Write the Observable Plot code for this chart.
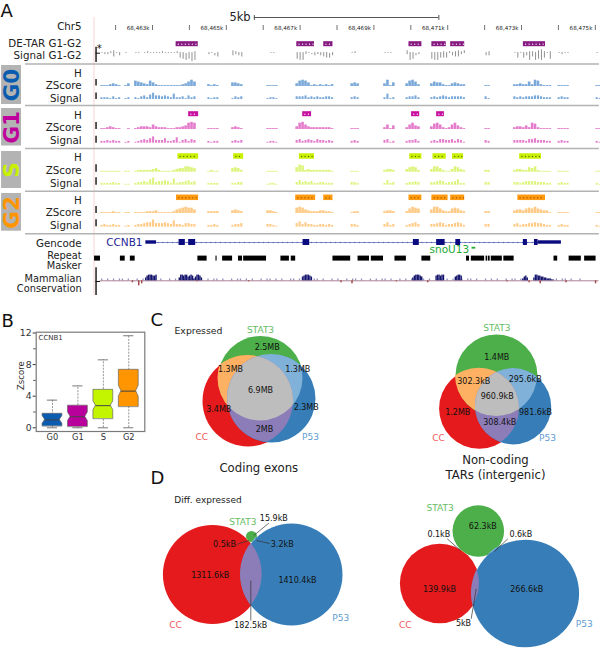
<!DOCTYPE html>
<html><head><meta charset="utf-8">
<script src="https://cdn.jsdelivr.net/npm/d3@7"></script>
<script src="https://cdn.jsdelivr.net/npm/@observablehq/plot@0.6"></script>
<style>
html,body{margin:0;padding:0;background:#fff}
#page{position:relative;width:600px;height:649px;overflow:hidden}
#page svg{position:absolute;background:transparent}
</style></head><body><div id="page"></div>
<script>
// ---------- DATA: panel A (positions are kb past 68,461k) ----------
const tickKb = d3.range(1, 15);
const tickLabels = ["68,463k","68,465k","68,467k","68,469k","68,471k","68,473k","68,475k"];
const regionStarts = [0.59,1.24,1.51,3.49,4.14,5.09,5.88,7.37,8.26,8.86,9.53,11.0,11.78,12.98,14.01];
const binKb = 0.08;
const g0Z = "1112321 13 654326421111111123575 2121 4432 1111 3676412121212 343 3714 36752 354421134322 11 2232252762111 1111 11";
const g0S = "2221312 12 213425744343262231423 2122 1323 1221 3334232322332 232 2612 23342 232343233332 31 3232333443222 2322 21";
const g1Z = "1123211 01 123332532221112234787 1111 2321 1111 3785322222221 111 2514 25743 367521257421 11 2332427621111 1111 11";
const g1S = "2232322 12 123435733352236134243 2122 2323 1221 3423432433232 232 3412 23342 232443342431 32 3333244533322 2322 21";
const sZ  = "1111111 11 122222342111123446654 1211 4542 1111 5872322222221 111 2332 35652 366421136532 22 2332254621111 1111 11";
const sS  = "2222322 11 233436834454272334534 2222 2233 1221 3534342233222 332 2523 23343 334542334622 33 3323444433322 2322 21";
const g2Z = "1111211 11 111122231111124567664 2222 3432 3321 6764322233221 122 2332 25765 477532256532 22 3443565754331 1111 11";
const g2S = "2322322 12 233455844454373324433 2232 2334 3321 4635332233232 332 3523 23453 334542334542 33 3423344544322 2322 21";
const diffUp   = "1112311 10 110121111211112110112 1101 3211 0110 1112101111101 120 1110 31101 111121212323 12 1111122134212 1111 10";
const diffDown = "0110302 00 000000000000000456576 1023 2123 0000 5661012123442 000 0000 16521 566444023310 22 0404263656405 0100 00";
const deTar = [[2.64,3.24],[5.91,6.39],[6.64,6.89],[8.95,9.30],[9.57,9.96],[10.08,10.46],[12.05,12.65]];
const hG1 = [[2.98,3.25],[6.07,6.31],[9.02,9.24],[9.70,9.91]];
const hS  = [[2.69,3.25],[4.20,4.47],[5.98,6.39],[8.97,9.30],[9.60,9.96],[10.13,10.43],[11.95,12.54]];
const hG2 = [[2.65,3.25],[5.88,6.42],[6.64,6.89],[8.95,9.30],[9.57,10.01],[10.08,10.46],[11.90,12.65]];
const exons = [[2.72,2.89],[2.98,3.17],[6.08,6.26],[9.07,9.23],[9.70,9.93],[10.22,10.35],[12.05,12.16],[12.35,12.45]];
const utrs = [[1.82,2.11],[12.45,13.08]];
const repeats = [[0.43,0.59],[1.13,1.26],[1.40,1.53],[3.23,3.48],[3.72,3.75],[3.90,4.17],[4.33,4.44],[4.47,5.09],[5.48,5.71],[5.76,5.88],[6.89,7.37],[7.57,7.88],[7.93,8.26],[8.57,8.88],[9.30,9.54],[10.51,10.59],[10.64,11.00],[11.04,11.08],[11.10,11.15],[11.18,11.48],[11.52,11.80],[12.88,12.98],[13.29,13.62],[13.71,14.02]];
const consPeaks = [[1.81,"35666556"],[2.72,"3665664565246653"],[6.06,"4566654"],[9.05,"3566654"],[9.68,"566566"],[10.2,"45665"],[12.03,"2453"],[12.33,"36655443322211"]];
const consNoise = "1010101101001010111010010100101101001011010010110101001011010100110100101101001010010110100101011010010101100101001101010010110100101010010110101001010010101101001";
const consDown = [[1.45,2],[1.62,5],[1.7,3],[3.2,1],[4.6,1],[7.1,2],[7.4,3],[8.6,1],[9.45,2],[11.6,1],[12.2,2],[12.5,3],[13.2,2],[14.0,3]];

// ---------- DATA: panel B ----------
const phases  = ["G0","G1","S","G2"];
const q1      = [0.2,0.13,1.14,2.66];
const medians = [1.0,1.4,2.8,4.64];
const q3      = [1.77,2.8,4.8,7.34];
const whiskLo = [0,0,0,0];
const whiskHi = [3.5,5.3,8.6,11.65];
const notch   = [0.5,0.55,0.55,0.7];

// ---------- DATA: panels C and D ----------
const vennCC    = [[247.5,400.5,45.5],[478.8,408,40.2],[212,574,49.6],[439.2,583,39.8]];
const vennSTAT3 = [[260,378,42.5],[496,375,41],[251,536,5.5],[477.8,530.5,25.8]];
const vennP53   = [[271,398,44],[512.8,406,37.9],[291,574,51],[524.8,593,53.8]];
const vennValues = [
 ["2.5MB",266.7,346.7],["1.3MB",230,369],["1.3MB",297.3,369],["6.9MB",260,390],["3.4MB",218.3,409.3],["2.3MB",305.7,407.3],["2MB",264,429],
 ["1.4MB",496.3,356.7],["302.3kB",473.3,380.7],["295.6kB",524.7,379],["960.9kB",496.7,395.7],["1.2MB",457.3,412.3],["981.6kB",535,412.3],["308.4kB",499.3,422.3],
 ["15.9kB",273.3,518],["0.5kB",224,543.7],["3.2kB",281.7,543.7],["1311.6kB",209.7,574.7],["1410.4kB",297,580],["182.5kB",250.3,625],
 ["62.3kB",482.3,526],["0.1kB",438.3,534],["0.6kB",520.3,534],["139.9kB",439,588.7],["266.6kB",526.3,588.7],["5kB",463,623.3]];
const vennNames = [
 ["STAT3",260,330],["CC",201.3,436.7],["P53",310,436.7],
 ["STAT3",496.3,327.7],["CC",438,438],["P53",547,437.7],
 ["STAT3",242.3,521.7],["CC",175,624.3],["P53",340.3,617.3],
 ["STAT3",439.7,507.7],["CC",404.7,624.3],["P53",583.7,623.3]];
const leaders = [
 [268.3,522.7,253.3,535],[236,544,248.3,540],[269.3,543,256,540],[250.3,580,250.3,620],
 [446.7,538.3,460,550],[507.3,538.3,494,551],[470.7,618.3,475.7,588.3]];

// ---------- STYLE / LAYOUT ----------
const FONT = "DejaVu Sans";
const C = {cc:"#e41a1c",st:"#4daf4a",p:"#377eb8",ccst:"#feb163",stp:"#7fb1d9",ccp:"#8c7db9",all:"#bdbdbd",
           nameCC:"#ee5a5c",nameST:"#66bd63",nameP:"#5f9dd1"};
const nameColor = {STAT3:C.nameST,CC:C.nameCC,P53:C.nameP};
const tracks = [
 {s:g0Z,base:86,color:"#7aa8d8",w:.2},{s:g0S,base:99,color:"#7aa8d8",w:.5},
 {s:g1Z,base:129,color:"#e47ccc",w:.2},{s:g1S,base:142.7,color:"#e47ccc",w:.5},
 {s:sZ,base:171.7,color:"#dcf47c",w:.2},{s:sS,base:184.7,color:"#dcf47c",w:.5},
 {s:g2Z,base:213,color:"#ffca86",w:.2},{s:g2S,base:226.7,color:"#ffca86",w:.5}];
const hBoxes = [
 {d:deTar,y:43.7,h:5,fill:"#871a80",dot:"#fff"},{d:hG1,y:113.7,h:5,fill:"#c810a0",dot:"#fff"},
 {d:hS,y:156,h:5.5,fill:"#c8f000",dot:"#5a6a00"},{d:hG2,y:197.3,h:5.5,fill:"#ff9a10",dot:"#7a4a00"}];
const dividers = [63.5,105,148,190.7,233.3];
const scaleBars = [[79,85.5],[92.5,99],[122,129],[135.7,142.7],[164.3,171.7],[177.3,184.7],[206,213],[219.3,226.3]];
const sideBoxes = [["G0",65,104,"#0a5cb0"],["G1",108,145.5,"#c0009c"],["S",151,188,"#c8f000"],["G2",193,230.7,"#ff9500"]];
const rowLabels = [["Chr5",26],["DE-TAR G1-G2",43],["Signal G1-G2",55],
 ["H",73],["ZScore",85],["Signal",98],["H",115],["ZScore",127],["Signal",140],
 ["H",157],["ZScore",170],["Signal",183],["H",200],["ZScore",212],["Signal",225],
 ["Gencode",243]];
const tightLabels = [["Repeat",255],["Masker",265],["Mammalian",278],["Conservation",288]];
const labelKb = 0.08, barKb = 0.47;

// expand a "digits digits ..." string into bins on the shared grid
const expand = s => s.split(" ").flatMap((seg,r)=>[...seg].map((c,i)=>({x:regionStarts[r]+i*binKb,h:+c})));
const barRows = tracks.flatMap(t=>expand(t.s).filter(d=>d.h>0).map(d=>({
  x1:d.x+t.w*binKb*.3, x2:d.x+binKb-t.w*binKb*.3, y1:t.base-d.h*.9, y2:t.base, color:t.color})));
const up = expand(diffUp), down = expand(diffDown);
const diffRows = up.map((d,i)=>({x:d.x+binKb/2,y1:53-d.h*.9,y2:53+down[i].h*1.15}));
const boxRows = hBoxes.flatMap(b=>b.d.map(([a,e])=>({a,e,y1:b.y-b.h/2,y2:b.y+b.h/2,fill:b.fill})));
const boxDots = hBoxes.flatMap(b=>b.d.flatMap(([a,e])=>d3.range(a+.06,e-.03,.095).map(x=>({x,y:b.y,fill:b.dot}))));
const consRows = consPeaks.flatMap(([k,s])=>[...s].map((c,i)=>({x:k+i*.04,h:+c})));
const noiseRows = [...consNoise].map((c,i)=>({x:0.62+i*.08,h:+c})).filter(d=>d.h);

const rect = (data,y1,y2,fill)=>Plot.rect(data,{x1:d=>d[0],x2:d=>d[1],y1,y2,fill});

const plotA = Plot.plot({
  width:600,height:305,margin:0,
  style:{background:"transparent",fontFamily:FONT},
  x:{domain:[-2.119,14.14],range:[0,600],axis:null},
  y:{domain:[0,305],range:[0,305],axis:null},
  color:{type:"identity"},
  marks:[
    Plot.ruleX([0.415],{y1:17,y2:295,stroke:"#f7c9c9",strokeWidth:.8}),
    // panel letter + scale bar
    Plot.text(["A"],{x:-2.12,y:11,text:d=>d,textAnchor:"start",fontSize:18,fill:"#111"}),
    Plot.text(["5kb"],{x:4.66,y:16.5,text:d=>d,textAnchor:"end",fontSize:11.5,fill:"#222"}),
    Plot.ruleY([17],{x1:4.76,x2:9.76,stroke:"#444",strokeWidth:.9}),
    Plot.ruleX([4.76,9.76],{y1:15,y2:20,stroke:"#444",strokeWidth:.9}),
    // chromosome ruler
    Plot.ruleX(tickKb,{y1:25,y2:30,stroke:"#333",strokeWidth:.7}),
    Plot.text(tickLabels,{x:(d,i)=>2+2*i-.08,y:27.5,text:d=>d,textAnchor:"end",fontSize:5.6,fill:"#222"}),
    // dividers
    Plot.ruleY(dividers,{x1:-1.44,x2:14.11,stroke:"#b3b3b3",strokeWidth:1.5}),
    // side phase labels
    Plot.rect(sideBoxes,{x1:-2.09,x2:-1.55,y1:d=>d[1],y2:d=>d[2],fill:"#b3b3b3"}),
    Plot.text(sideBoxes,{x:-1.8,y:d=>(d[1]+d[2])/2,text:d=>d[0],rotate:-90,fontSize:21.5,fontWeight:"bold",fill:d=>d[3]}),
    // row labels
    Plot.text(rowLabels,{x:labelKb,y:d=>d[1],text:d=>d[0],textAnchor:"end",fontSize:10.3,fill:"#222"}),
    Plot.text(tightLabels,{x:labelKb,y:d=>d[1],text:d=>d[0],textAnchor:"end",fontSize:9.8,fill:"#222"}),
    // coverage tracks
    Plot.rect(barRows,{x1:"x1",x2:"x2",y1:"y1",y2:"y2",fill:"color"}),
    // differential track
    Plot.ruleX(diffRows,{x:"x",y1:"y1",y2:"y2",stroke:"#444",strokeWidth:.6}),
    Plot.ruleX([barKb],{y1:46.7,y2:62,stroke:"#111",strokeWidth:1.4}),
    Plot.ruleY([52.7],{x1:barKb,x2:barKb+.12,stroke:"#111",strokeWidth:1}),
    Plot.text(["*"],{x:0.56,y:48,text:d=>d,fontSize:10,fill:"#111"}),
    // H boxes
    Plot.rect(boxRows,{x1:"a",x2:"e",y1:"y1",y2:"y2",fill:"fill"}),
    Plot.dot(boxDots,{x:"x",y:"y",r:.65,fill:"fill"}),
    // track scale bars
    Plot.ruleX(scaleBars,{x:()=>barKb,y1:d=>d[0],y2:d=>d[1],stroke:"#111",strokeWidth:1.4}),
    // gene model
    Plot.ruleY([242],{x1:2.11,x2:13.08,stroke:"#6a74c0",strokeWidth:.8}),
    Plot.dot(d3.range(2.15,13.05,.13),{x:d=>d,y:()=>242,r:.75,fill:"#5a64b8"}),
    rect(utrs,240.3,243.7,"#0b0b80"),
    rect(exons,239,245,"#0b0b80"),
    Plot.text(["CCNB1"],{x:1.73,y:242.5,text:d=>d,textAnchor:"end",fontSize:10.5,fill:"#1f1f9a"}),
    Plot.text(["snoU13"],{x:10.58,y:249.5,text:d=>d,textAnchor:"end",fontSize:10.5,fill:"#22aa33"}),
    Plot.rect([[10.66,10.76]],{x1:d=>d[0],x2:d=>d[1],y1:246.8,y2:248.6,fill:"#22aa33"}),
    // repeats
    rect(repeats,255.6,260.6,"#000"),
    // conservation
    Plot.rect(noiseRows,{x1:d=>d.x,x2:d=>d.x+.035,y1:d=>279.5-d.h,y2:280.3,fill:"#9090c0"}),
    Plot.ruleY([280.3],{x1:0.58,x2:14.1,stroke:"#8a4f6a",strokeWidth:.7}),
    Plot.rect(consRows,{x1:d=>d.x,x2:d=>d.x+.038,y1:d=>280.3-d.h*.95,y2:280.3,fill:"#15156e"}),
    Plot.rect(consDown,{x1:d=>d[0],x2:d=>d[0]+.04,y1:280.3,y2:d=>280.3+d[1],fill:"#a04848"}),
    Plot.ruleX([barKb],{y1:267.3,y2:295,stroke:"#111",strokeWidth:1.4}),
    Plot.ruleY([281],{x1:barKb,x2:barKb+.12,stroke:"#111",strokeWidth:1})
  ]
});
plotA.style.left="0px";plotA.style.top="0px";

// ---------- Panel B ----------
const boxFill = ["#0a5cb0","#b8009a","#c4f500","#ff9500"];
const halfW=.39, halfN=.29;
const boxOutline = phases.flatMap((p,i)=>{
  const n=notch[i],m=medians[i];
  return [[q1[i],halfW],[m-n,halfW],[m,halfN],[m+n,halfW],[q3[i],halfW]]
    .map(([v,w])=>({phase:p,v,l:i-w,r:i+w,fill:boxFill[i]}));
});
const plotB = Plot.plot({
  width:150,height:160,marginLeft:35.7,marginRight:5.7,marginTop:26.7,marginBottom:34,
  style:{background:"transparent",fontFamily:FONT},
  x:{domain:[-.64,3.63],axis:null},
  y:{domain:[-.47,12.1],axis:null},
  color:{type:"identity"},
  marks:[
    Plot.frame({stroke:"#7a7a7a",strokeWidth:1.2}),
    Plot.axisY({ticks:[0,4,8,12],tickSize:3,tickPadding:1.5,fontSize:9.3,color:"#333",label:null,marginLeft:35.7}),
    Plot.axisY({ticks:[2,6,10],tickSize:2.5,tickFormat:()=>"",label:null,color:"#555",marginLeft:35.7}),
    Plot.ruleX(phases.map((p,i)=>i),{y1:i=>whiskLo[i],y2:i=>whiskHi[i],stroke:"#666",strokeWidth:.7,strokeDasharray:"2,1.2"}),
    Plot.ruleY(whiskHi,{x1:(d,i)=>i-.2,x2:(d,i)=>i+.2,stroke:"#555",strokeWidth:.8}),
    Plot.ruleY(whiskLo,{x1:(d,i)=>i-.2,x2:(d,i)=>i+.2,stroke:"#555",strokeWidth:.8}),
    Plot.areaX(boxOutline,{y:"v",x1:"l",x2:"r",z:"phase",fill:"fill",stroke:"#666",strokeWidth:.7}),
    Plot.ruleY(medians,{x1:(d,i)=>i-halfN,x2:(d,i)=>i+halfN,stroke:"#444",strokeWidth:1}),
    Plot.text(phases,{x:(d,i)=>i,y:-1.23,text:d=>d,fontSize:8.3,fill:"#333"}),
    Plot.text(["Zscore"],{x:-1.23,y:6.6,text:d=>d,rotate:-90,fontSize:8.5,fill:"#333"}),
    Plot.text(["CCNB1"],{x:-.55,y:11.4,text:d=>d,textAnchor:"start",fontSize:7,fill:"#333"})
  ]
});
plotB.style.left="0px";plotB.style.top="305px";plotB.style.zIndex="2";

// ---------- Panels C and D: Venn diagrams ----------
const circles = [[vennCC,C.cc],[vennSTAT3,C.st],[vennP53,C.p]].flatMap(([set,fill])=>
  set.map(([cx,cy,r])=>({cx,cy,r,fill})));
function overlaps(index,{x,y}){
  const g=d3.create("svg:g"), k=x(1)-x(0);
  const circ=(host,c)=>host.append("circle").attr("cx",x(c[0])).attr("cy",y(c[1])).attr("r",c[2]*k);
  const defs=g.append("defs");
  const names=["cc","st","p"], sets=[vennCC,vennSTAT3,vennP53];
  sets.forEach((s,j)=>s.forEach((c,i)=>circ(defs.append("clipPath").attr("id",`v-${names[j]}-${i}`),c)));
  [[0,1,C.ccst],[1,2,C.stp],[0,2,C.ccp]].forEach(([a,b,fill])=>{
    sets[a].forEach((c,i)=>{
      circ(g.append("g").attr("clip-path",`url(#v-${names[b]}-${i})`),c).attr("fill",fill);
    });
  });
  sets[0].forEach((c,i)=>{
    const h=g.append("g").attr("clip-path",`url(#v-${names[1]}-${i})`).append("g").attr("clip-path",`url(#v-${names[2]}-${i})`);
    circ(h,c).attr("fill",C.all);
  });
  return g.node();
}
const plotV = Plot.plot({
  width:600,height:344,margin:0,
  style:{background:"transparent",fontFamily:FONT},
  x:{domain:[0,600],range:[0,600],axis:null},
  y:{domain:[305,649],range:[0,344],axis:null},
  r:{type:"linear",domain:[0,100],range:[0,100]},
  color:{type:"identity"},
  marks:[
    Plot.dot(circles,{x:"cx",y:"cy",r:"r",fill:"fill",sort:null}),
    overlaps,
    Plot.link(leaders,{x1:d=>d[0],y1:d=>d[1],x2:d=>d[2],y2:d=>d[3],stroke:"#333",strokeWidth:.7}),
    Plot.text(vennValues,{x:d=>d[1],y:d=>d[2],text:d=>d[0],fontSize:8,fill:"#111"}),
    Plot.text(vennNames,{x:d=>d[1],y:d=>d[2],text:d=>d[0],fontSize:9,fill:d=>nameColor[d[0]]}),
    Plot.text(["Expressed"],{x:174,y:331,text:d=>d,textAnchor:"start",fontSize:9.3,fill:"#222"}),
    Plot.text(["Diff. expressed"],{x:173.7,y:499.3,text:d=>d,textAnchor:"start",fontSize:9,fill:"#222"}),
    Plot.text(["Coding exons"],{x:258.3,y:467.3,text:d=>d,fontSize:11.7,fill:"#222"}),
    Plot.text(["Non-coding"],{x:495,y:460,text:d=>d,fontSize:11.7,fill:"#222"}),
    Plot.text(["TARs (intergenic)"],{x:495,y:474.7,text:d=>d,fontSize:11.7,fill:"#222"}),
    Plot.text(["B"],{x:1,y:321,text:d=>d,textAnchor:"start",fontSize:18,fill:"#111"}),
    Plot.text(["C"],{x:150,y:320,text:d=>d,textAnchor:"start",fontSize:18,fill:"#111"}),
    Plot.text(["D"],{x:150,y:477.5,text:d=>d,textAnchor:"start",fontSize:18,fill:"#111"})
  ]
});
plotV.style.left="0px";plotV.style.top="305px";

document.getElementById("page").append(plotA,plotV,plotB);
</script></body></html>
